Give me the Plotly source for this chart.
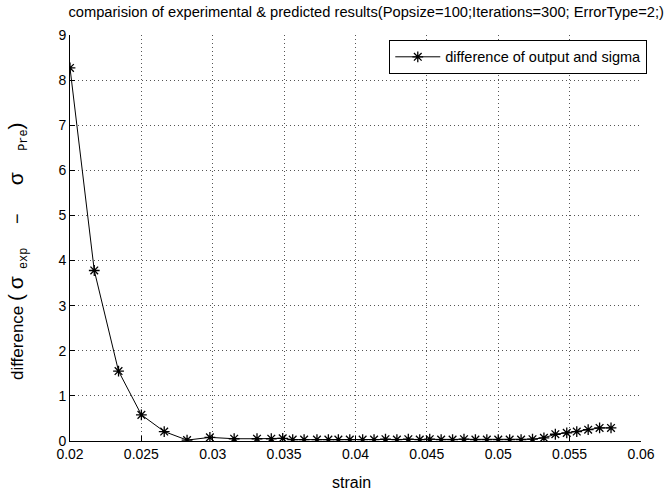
import plotly.graph_objects as go

strain = [0.0200, 0.0217, 0.0234, 0.0250, 0.0266, 0.0282, 0.0298, 0.0315, 0.0331, 0.0341,
          0.0349, 0.0356, 0.0364, 0.0373, 0.0381, 0.0388, 0.0396, 0.0405, 0.0413, 0.0421,
          0.0429, 0.0437, 0.0445, 0.0452, 0.0460, 0.0468, 0.0476, 0.0484, 0.0492, 0.0500,
          0.0508, 0.0516, 0.0524, 0.0532, 0.0540, 0.0548, 0.0555, 0.0563, 0.0571, 0.0579]
difference = [8.27, 3.78, 1.55, 0.58, 0.21, 0.02, 0.08, 0.05, 0.05, 0.05,
              0.06, 0.03, 0.03, 0.03, 0.03, 0.03, 0.03, 0.03, 0.03, 0.04,
              0.03, 0.04, 0.03, 0.04, 0.03, 0.03, 0.04, 0.03, 0.03, 0.03,
              0.03, 0.03, 0.04, 0.07, 0.15, 0.18, 0.21, 0.25, 0.29, 0.29]

x_ticks = [0.02, 0.025, 0.03, 0.035, 0.04, 0.045, 0.05, 0.055, 0.06]
x_tick_labels = ["0.02", "0.025", "0.03", "0.035", "0.04", "0.045", "0.05", "0.055", "0.06"]
y_ticks = [0, 1, 2, 3, 4, 5, 6, 7, 8, 9]

title_text = "comparision of experimental & predicted results(Popsize=100;Iterations=300; ErrorType=2;)"
series_name = "difference of output and sigma"
x_title = "strain"

FONT = "Liberation Sans, Arial, sans-serif"
MONO = "Liberation Mono, Courier New, monospace"
NB = "\u00a0"

y_title = ("difference" + NB + "<span style='font-size:21px'>(</span>" + NB
           + "<span style='font-size:21px'>σ</span>"
           + f"<sub><span style='font-family:{MONO}'>{NB}exp</span></sub>" + NB * 5
           + "<span style='font-size:18px'>−</span>" + NB * 6
           + "<span style='font-size:21px'>σ</span>"
           + f"<sub><span style='font-family:{MONO}'>{NB * 3}Pre</span></sub>"
           + "<span style='font-size:21px'>)</span>")

fig = go.Figure()
fig.add_trace(go.Scatter(
    x=strain, y=difference, mode="lines+markers", name=series_name,
    line=dict(color="black", width=1),
    marker=dict(symbol="asterisk-open", size=9, color="black",
                line=dict(color="black", width=1.3)),
    showlegend=True,
))

axis_common = dict(
    showgrid=True, gridcolor="#555555", griddash="1px,3px", gridwidth=1,
    zeroline=False, showline=True, linecolor="black", linewidth=1,
    ticks="inside", ticklen=5, tickcolor="black", mirror=False,
    tickfont=dict(family=FONT, size=14, color="black"),
)

fig.update_layout(
    width=667, height=497,
    margin=dict(l=70, r=15, t=35, b=56),
    paper_bgcolor="white", plot_bgcolor="white",
    font=dict(family=FONT, color="black"),
    title=dict(text=title_text, x=0.549, xanchor="center", y=0.977, yanchor="middle",
               font=dict(family=FONT, size=14.7, color="black")),
    xaxis=dict(range=[0.02, 0.06], tickvals=x_ticks, ticktext=x_tick_labels, **axis_common),
    yaxis=dict(range=[0, 9], tickvals=y_ticks, **axis_common),
    legend=dict(x=1.011, xanchor="right", y=0.988, yanchor="top",
                bgcolor="white", bordercolor="black", borderwidth=1,
                font=dict(family=FONT, size=14.5, color="black"),
                itemwidth=45, tracegroupgap=0),
    annotations=[
        dict(text=x_title, xref="paper", yref="paper", x=0.493, y=-0.101,
             xanchor="center", yanchor="middle", showarrow=False,
             font=dict(family=FONT, size=16, color="black")),
        dict(text=y_title, xref="paper", yref="paper", x=-0.091, y=0.468,
             xanchor="center", yanchor="middle", textangle=-90, showarrow=False,
             font=dict(family=FONT, size=17, color="black")),
    ],
)

fig.write_html("out.html", config={"displayModeBar": False},
               post_script="document.body.style.margin='0';document.body.style.overflow='hidden';")
